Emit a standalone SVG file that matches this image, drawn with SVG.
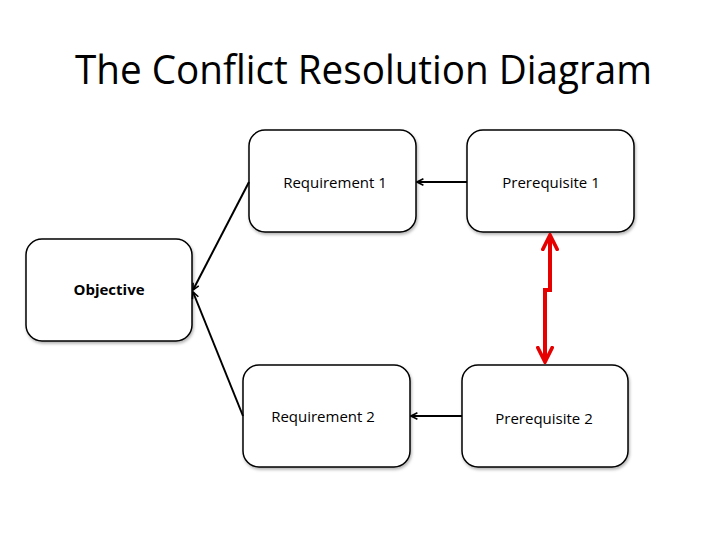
<svg xmlns="http://www.w3.org/2000/svg" width="728" height="546" viewBox="0 0 728 546">
<defs>
<style>
.box{fill:#fff;stroke:#000;stroke-width:1.5}
.lbl{font-family:"Open Sans","Liberation Sans",sans-serif;font-size:15px;fill:#000;text-anchor:middle}
.title{font-family:"Open Sans","Liberation Sans",sans-serif;font-size:40px;fill:#000}
.conn{stroke:#000;stroke-width:2;fill:none}
.red{stroke:#e60000;stroke-width:4;fill:none;stroke-linejoin:miter}
</style>
<filter id="sh" x="-10%" y="-10%" width="130%" height="130%">
<feDropShadow dx="1" dy="2" stdDeviation="1.5" flood-color="#000" flood-opacity="0.3"/>
</filter>
<marker id="ah" viewBox="0 0 10 10" refX="9" refY="5" markerWidth="8" markerHeight="8" orient="auto-start-reverse" markerUnits="userSpaceOnUse">
<path d="M1,1 L9,5 L1,9" fill="none" stroke="#000" stroke-width="2"/>
</marker>
<marker id="rh" viewBox="0 0 10 10" refX="9" refY="5" markerWidth="4.5" markerHeight="4.5" orient="auto-start-reverse">
<path d="M1,1 L9,5 L1,9" fill="none" stroke="#e60000" stroke-width="2" stroke-linecap="round"/>
</marker>
</defs>
<rect width="728" height="546" fill="#fff"/>
<text class="title" x="75" y="84" textLength="577" lengthAdjust="spacingAndGlyphs">The Conflict Resolution Diagram</text>

<g id="objective">
<rect class="box" x="26" y="239" width="166" height="102" rx="16" filter="url(#sh)"/>
<text class="lbl" x="109" y="295" font-weight="bold">Objective</text>
</g>
<g id="requirement1">
<rect class="box" x="249" y="130" width="167" height="102" rx="16" filter="url(#sh)"/>
<text class="lbl" x="335" y="188">Requirement 1</text>
</g>
<g id="prerequisite1">
<rect class="box" x="467" y="130" width="167" height="102" rx="16" filter="url(#sh)"/>
<text class="lbl" x="551" y="188">Prerequisite 1</text>
</g>
<g id="requirement2">
<rect class="box" x="243" y="365" width="167" height="102" rx="16" filter="url(#sh)"/>
<text class="lbl" x="323" y="422">Requirement 2</text>
</g>
<g id="prerequisite2">
<rect class="box" x="462" y="365" width="166" height="102" rx="16" filter="url(#sh)"/>
<text class="lbl" x="544" y="424">Prerequisite 2</text>
</g>

<g id="connectors">
<line class="conn" x1="467" y1="182" x2="417" y2="182" marker-end="url(#ah)"/>
<line class="conn" x1="462" y1="416" x2="411" y2="416" marker-end="url(#ah)"/>
<line class="conn" x1="249" y1="182" x2="193" y2="290" marker-end="url(#ah)"/>
<line class="conn" x1="243" y1="416" x2="193" y2="292" marker-end="url(#ah)"/>
<path class="red" d="M550,235 L550,290 L545,290 L545,362" marker-start="url(#rh)" marker-end="url(#rh)"/>
</g>
</svg>
